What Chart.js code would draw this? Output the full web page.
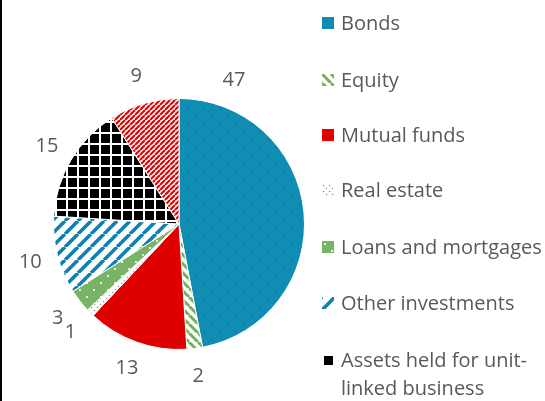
<!DOCTYPE html>
<html>
<head>
<meta charset="utf-8">
<script src="https://cdn.jsdelivr.net/npm/chart.js@4/dist/chart.umd.min.js"></script>
<style>
  html, body { margin: 0; padding: 0; background: #fff; }
  #wrap { position: relative; width: 545px; height: 401px; overflow: hidden; background: #fff; }
  #wrap::before { content: ""; position: absolute; left: 0; top: 0; bottom: 0; width: 2px; background: #000; z-index: 2; }
  canvas#pie { position: absolute; left: 0; top: 0; }
  #legend { position: absolute; left: 322px; top: 0; font-family: "Open Sans", "Noto Sans", sans-serif; font-size: 20px; color: #595959; }
  .item { position: absolute; left: 0; white-space: nowrap; line-height: 28px; }
  .item canvas { position: absolute; left: 0; top: 8px; }
  .item span { position: absolute; left: 19px; top: 0; }
</style>
</head>
<body>
<div id="wrap">
  <canvas id="pie" width="545" height="401"></canvas>
  <div id="legend"></div>
</div>
<script>
// Portfolio composition of insurers' investments, in per cent of total
const categories = [
  "Bonds",
  "Equity",
  "Mutual funds",
  "Real estate",
  "Loans and mortgages",
  "Other investments",
  "Assets held for unit-linked business",
  "Other assets"
];
const shares = [47, 2, 13, 1, 3, 10, 15, 9];
const legendLines = [
  ["Bonds"],
  ["Equity"],
  ["Mutual funds"],
  ["Real estate"],
  ["Loans and mortgages"],
  ["Other investments"],
  ["Assets held for unit-", "linked business"]
];

// ---- fill patterns -------------------------------------------------------
function tile(size, paint) {
  const c = document.createElement("canvas");
  c.width = c.height = size;
  paint(c.getContext("2d"), size);
  return c;
}
function stripes(bg, fg, size, width, rising) {
  return tile(size, (g, s) => {
    g.fillStyle = bg; g.fillRect(0, 0, s, s);
    g.strokeStyle = fg; g.lineWidth = width;
    g.beginPath();
    for (let k = -1; k <= 1; k++) {
      if (rising) { g.moveTo(k * s, s); g.lineTo(k * s + s, 0); }
      else { g.moveTo(k * s, 0); g.lineTo(k * s + s, s); }
    }
    g.stroke();
  });
}
function dots(bg, fg, size, pts, r) {
  return tile(size, (g, s) => {
    g.fillStyle = bg; g.fillRect(0, 0, s, s);
    g.fillStyle = fg;
    pts.forEach(p => { g.beginPath(); g.arc(p[0], p[1], r, 0, Math.PI * 2); g.fill(); });
  });
}
function grid(bg, fg, size, width) {
  return tile(size, (g, s) => {
    g.fillStyle = bg; g.fillRect(0, 0, s, s);
    g.fillStyle = fg;
    g.fillRect(0, 0, s, width);
    g.fillRect(0, 0, width, s);
  });
}

const tiles = [
  dots("#108db2", "#0d83a7", 16, [[4, 4], [12, 12]], 1.2),          // Bonds
  stripes("#ffffff", "#72b05c", 9, 3, false),                       // Equity
  dots("#df0000", "#df0000", 4, [[1, 1]], 0.5),                     // Mutual funds
  dots("#ffffff", "#9a9a9a", 6, [[1.5, 1.5], [4.5, 4.5]], 0.8),     // Real estate
  dots("#78b366", "#ffffff", 14, [[3, 3], [10, 10]], 1.1),          // Loans and mortgages
  stripes("#ffffff", "#0f80b0", 13, 3.6, true),                     // Other investments
  grid("#000000", "#ffffff", 11, 2),                                // Unit-linked assets
  stripes("#ffffff", "#e00000", 5, 2.1, true)                       // Other assets
];

const ctx = document.getElementById("pie").getContext("2d");
const fills = tiles.map(t => ctx.createPattern(t, "repeat"));

// ---- value labels outside the pie ---------------------------------------
const outsideLabels = {
  id: "outsideLabels",
  afterDatasetsDraw(chart, args, opts) {
    const g = chart.ctx;
    const meta = chart.getDatasetMeta(0);
    const values = chart.data.datasets[0].data;
    g.save();
    g.font = opts.font;
    g.fillStyle = opts.color;
    g.textAlign = "center";
    g.textBaseline = "middle";
    meta.data.forEach((arc, i) => {
      const p = arc.getProps(["x", "y", "startAngle", "endAngle", "outerRadius"], true);
      let a = (p.startAngle + p.endAngle) / 2;
      if (opts.angleOverride && opts.angleOverride[i] !== undefined) {
        a = opts.angleOverride[i] * Math.PI / 180 - Math.PI / 2;
      }
      const d = p.outerRadius + opts.offset;
      g.fillText(String(values[i]), p.x + Math.cos(a) * d, p.y + Math.sin(a) * d);
    });
    g.restore();
  }
};

new Chart(ctx, {
  type: "pie",
  data: {
    labels: categories,
    datasets: [{
      data: shares,
      backgroundColor: fills,
      hoverBackgroundColor: fills,
      borderColor: "#ffffff",
      borderWidth: 1
    }]
  },
  options: {
    responsive: false,
    animation: false,
    layout: { padding: { left: 53, right: 240, top: 98, bottom: 51 } },
    plugins: {
      legend: { display: false },
      tooltip: { enabled: false },
      outsideLabels: {
        font: '20px "Open Sans", "Noto Sans", sans-serif',
        color: "#595959",
        offset: 28,
        angleOverride: { 0: 21 }
      }
    }
  },
  plugins: [outsideLabels]
});

// ---- legend ---------------------------------------------------------------
const legend = document.getElementById("legend");
const rowTops = [9, 66, 121, 176, 233, 289, 346];
legendLines.forEach((lines, i) => {
  const row = document.createElement("div");
  row.className = "item";
  row.style.top = rowTops[i] + "px";
  const sw = document.createElement("canvas");
  sw.width = 12; sw.height = 12;
  const sg = sw.getContext("2d");
  sg.fillStyle = sg.createPattern(tiles[i], "repeat");
  sg.fillRect(0, 0, 12, 12);
  row.appendChild(sw);
  const txt = document.createElement("span");
  txt.innerHTML = lines.join("<br>");
  row.appendChild(txt);
  legend.appendChild(row);
});
</script>
</body>
</html>
